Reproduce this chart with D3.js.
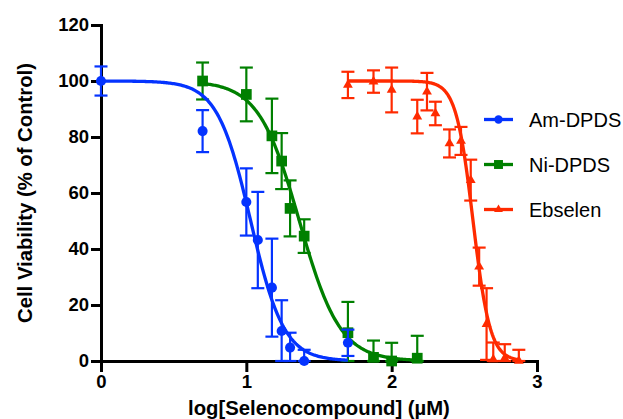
<!DOCTYPE html>
<html>
<head>
<meta charset="utf-8">
<script src="https://cdn.jsdelivr.net/npm/d3@7"></script>
<style>
  html, body { margin: 0; padding: 0; background: #fff; }
  svg { display: block; font-family: "Liberation Sans", Arial, Helvetica, sans-serif; }
</style>
</head>
<body>
<svg id="chart" width="623" height="419"></svg>
<script>
// Dose-response data: x = log10 concentration (µM), y = % viability, err = SEM
const seriesNames = ["Am-DPDS", "Ni-DPDS", "Ebselen"];
const seriesColors = ["#0433ff", "#008000", "#ff2a00"];

const amX   = [0, 0.699, 1.0, 1.079, 1.176, 1.243, 1.301, 1.398, 1.699];
const amY   = [100, 82.1, 56.8, 43.2, 26.2, 10.7, 4.8, 0, 6.5];
const amErr = [5.2, 7.5, 12, 17.2, 17.5, 11, 5.3, 4, 4.7];

const niX   = [0.699, 1.0, 1.176, 1.243, 1.301, 1.398, 1.699, 1.875, 2.0, 2.176];
const niY   = [100, 95.2, 80.4, 71.4, 54.5, 44.6, 10.1, 1.3, 0, 1];
const niErr = [6.6, 9.6, 13.3, 10, 10, 6, 11, 6, 6.5, 8];

const ebX   = [1.699, 1.875, 2.0, 2.176, 2.243, 2.301, 2.398, 2.477, 2.544, 2.602, 2.653, 2.699, 2.778, 2.875];
const ebY   = [98.6, 99.8, 96.8, 87.3, 96.2, 88.4, 77.7, 78.6, 64.6, 33.7, 13.2, 0.6, 1, 0];
const ebErr = [4.7, 4, 8, 6, 6.7, 4.2, 5, 5, 7.3, 6.8, 12.8, 6, 5, 4];

// Four-parameter logistic fit for each compound
const fitLogIC50 = [1.03, 1.365, 2.56];
const fitHill    = [3.8, 3.1, 7.4];
const fitTop     = [100, 100, 100];
const fitBottom  = [0, 0, 0];

const xTicks = [0, 1, 2, 3];
const yTicks = [0, 20, 40, 60, 80, 100, 120];

const xLabel = "log[Selenocompound] (\u00b5M)";
const yLabel = "Cell Viability (% of Control)";

const seriesData = [
  { x: amX, y: amY, e: amErr, sym: d3.symbolCircle,   size: 80,  lsize: 55 },
  { x: niX, y: niY, e: niErr, sym: d3.symbolSquare,   size: 115, lsize: 80 },
  { x: ebX, y: ebY, e: ebErr, sym: d3.symbolTriangle, size: 42,  lsize: 34 }
];

const svg = d3.select("#chart");
const plotLeft = 101, plotRight = 537, plotTop = 25, plotBottom = 361;

const x = d3.scaleLinear().domain([0, 3]).range([plotLeft, plotRight]);
const y = d3.scaleLinear().domain([0, 120]).range([plotBottom, plotTop]).clamp(true);

// Axes
const gx = svg.append("g")
  .attr("transform", `translate(0,${plotBottom})`)
  .call(d3.axisBottom(x).tickValues(xTicks).tickFormat(d3.format("d"))
    .tickSize(11).tickSizeOuter(0).tickPadding(3));
const gy = svg.append("g")
  .attr("transform", `translate(${plotLeft},0)`)
  .call(d3.axisLeft(y).tickValues(yTicks).tickFormat(d3.format("d"))
    .tickSize(10).tickSizeOuter(0).tickPadding(2));

[gx, gy].forEach(g => {
  g.select(".domain").attr("stroke", "#000").attr("stroke-width", 3).attr("stroke-linecap", "square");
  g.selectAll(".tick line").attr("stroke", "#000").attr("stroke-width", 3);
  g.selectAll(".tick text").attr("fill", "#000")
    .style("font-size", "18.5px").style("font-weight", "bold");
});

// Axis titles
svg.append("text")
  .attr("x", (plotLeft + plotRight) / 2).attr("y", 415)
  .attr("text-anchor", "middle")
  .style("font-size", "20.3px").style("font-weight", "bold")
  .text(xLabel);
svg.append("text")
  .attr("transform", `translate(31.5,${(plotTop + plotBottom) / 2}) rotate(-90)`)
  .attr("text-anchor", "middle")
  .style("font-size", "20.3px").style("font-weight", "bold")
  .text(yLabel);

// Series, drawn back to front
const line = d3.line().x(d => x(d[0])).y(d => y(d[1]));
[2, 1, 0].forEach(i => {
  const s = seriesData[i];
  const col = seriesColors[i];
  const g = svg.append("g");
  const pts = s.x.map((xv, j) => ({ x: xv, y: s.y[j], e: s.e[j] }));

  // fitted curve over the tested concentration range
  const x0 = d3.min(s.x), x1 = d3.max(s.x);
  const curve = d3.range(0, 201).map(k => {
    const xv = x0 + (x1 - x0) * k / 200;
    const yv = fitBottom[i] + (fitTop[i] - fitBottom[i]) /
      (1 + Math.pow(10, (xv - fitLogIC50[i]) * fitHill[i]));
    return [xv, yv];
  });

  // error bars
  const eb = g.selectAll(".err").data(pts).enter().append("g");
  eb.append("line")
    .attr("x1", d => x(d.x)).attr("x2", d => x(d.x))
    .attr("y1", d => y(d.y - d.e)).attr("y2", d => y(d.y + d.e))
    .attr("stroke", col).attr("stroke-width", 2.2);
  eb.append("line")
    .attr("x1", d => x(d.x) - 6.5).attr("x2", d => x(d.x) + 6.5)
    .attr("y1", d => y(d.y + d.e)).attr("y2", d => y(d.y + d.e))
    .attr("stroke", col).attr("stroke-width", 2.2);
  eb.append("line")
    .attr("x1", d => x(d.x) - 6.5).attr("x2", d => x(d.x) + 6.5)
    .attr("y1", d => y(d.y - d.e)).attr("y2", d => y(d.y - d.e))
    .attr("stroke", col).attr("stroke-width", 2.2);

  g.append("path").datum(curve)
    .attr("d", line).attr("fill", "none")
    .attr("stroke", col).attr("stroke-width", 3.3);

  g.selectAll(".pt").data(pts).enter().append("path")
    .attr("transform", d => `translate(${x(d.x)},${y(d.y)})`)
    .attr("d", d3.symbol().type(s.sym).size(s.size))
    .attr("fill", col);
});

// Legend
const legY = [119.5, 164.5, 209.5];
seriesNames.forEach((name, i) => {
  const g = svg.append("g").attr("transform", `translate(0,${legY[i]})`);
  g.append("line").attr("x1", 484).attr("x2", 513).attr("y1", 0).attr("y2", 0)
    .attr("stroke", seriesColors[i]).attr("stroke-width", 3.3);
  g.append("path").attr("transform", "translate(498.5,0)")
    .attr("d", d3.symbol().type(seriesData[i].sym).size(seriesData[i].lsize))
    .attr("fill", seriesColors[i]);
  g.append("text").attr("x", 529).attr("y", 7)
    .style("font-size", "20px").attr("fill", "#000")
    .text(name);
});
</script>
</body>
</html>
